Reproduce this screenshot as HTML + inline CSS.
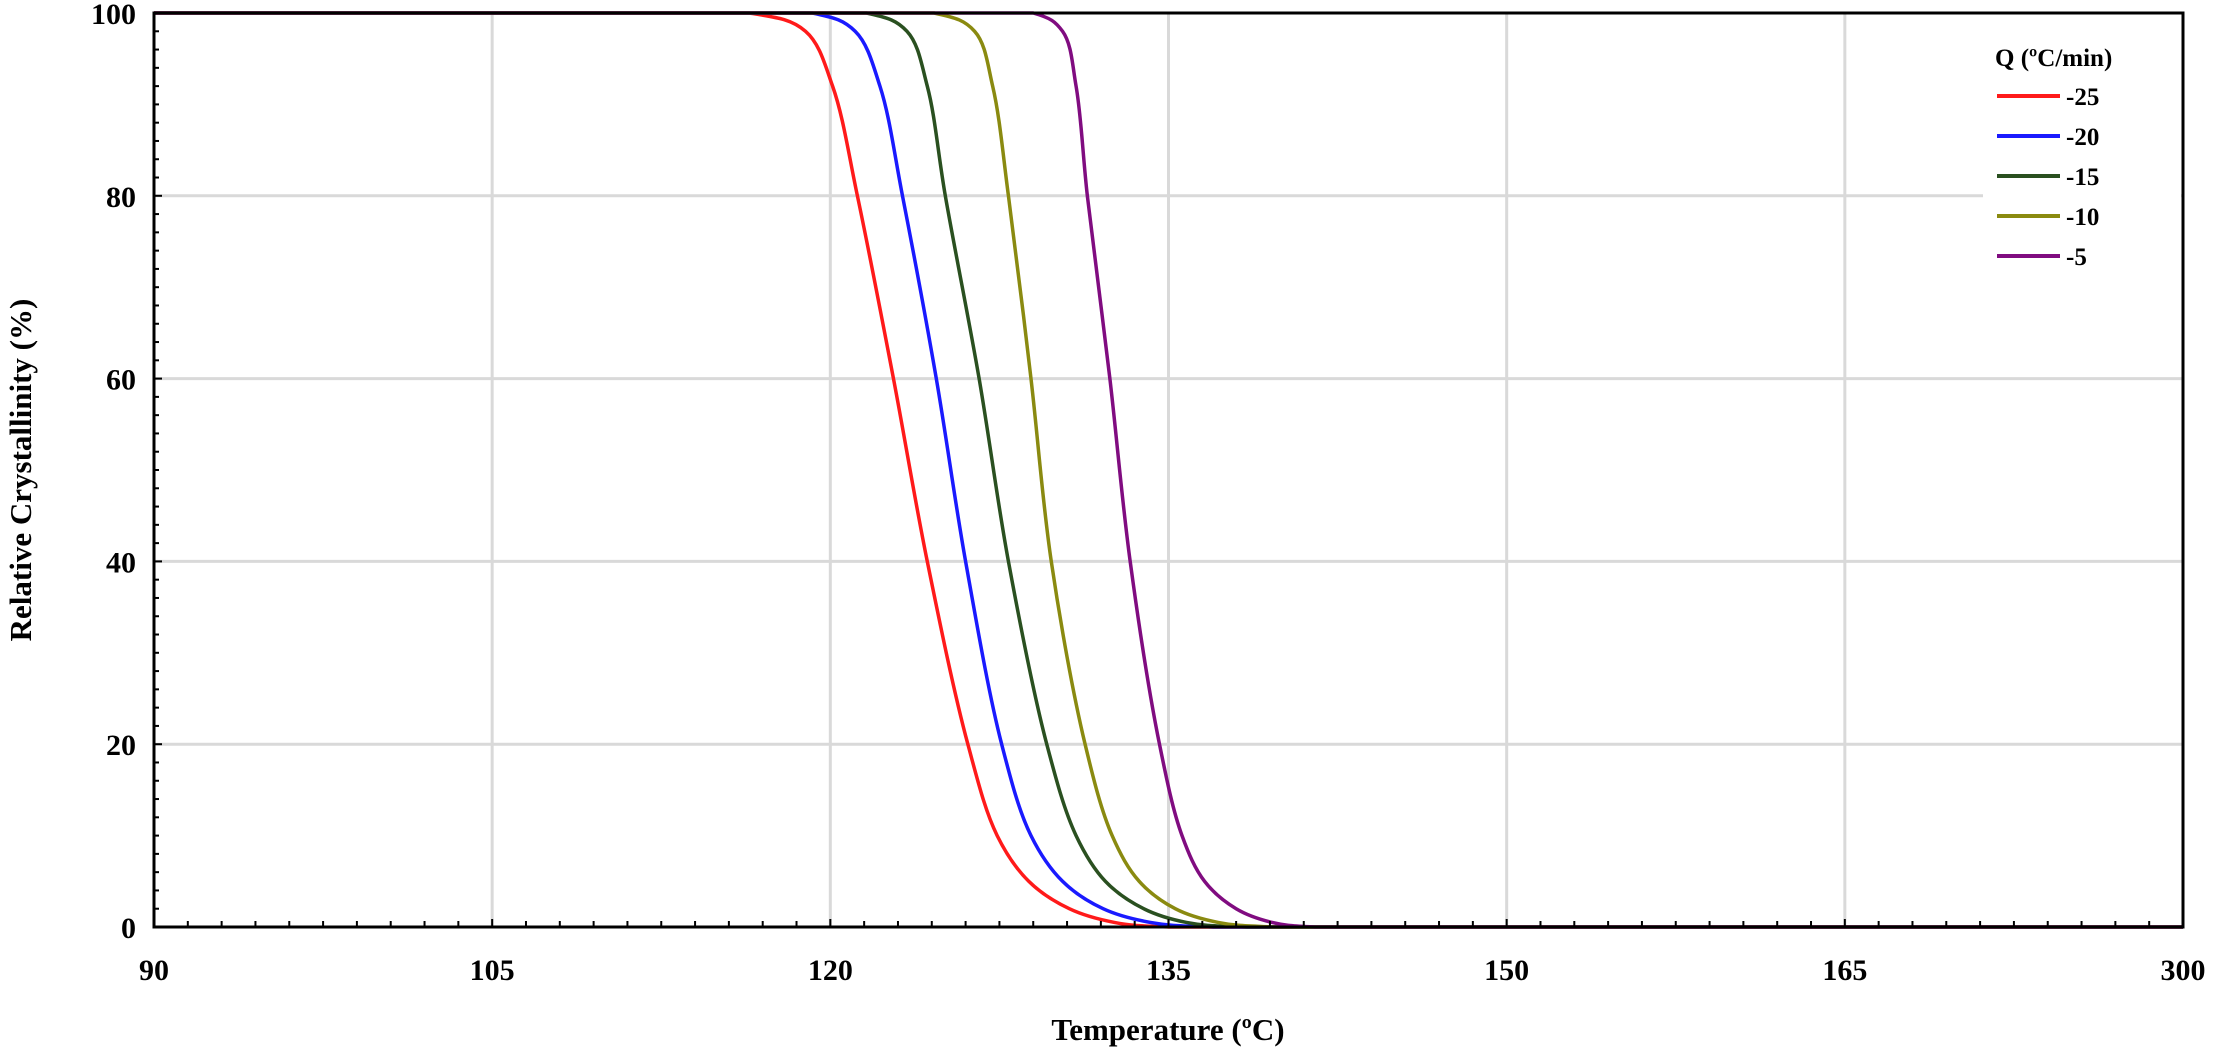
<!DOCTYPE html>
<html><head><meta charset="utf-8"><style>
html,body{margin:0;padding:0;background:#fff;}
svg{display:block;font-family:"Liberation Serif",serif;font-weight:bold;}
</style></head><body>
<svg id="chart" width="2220" height="1055" viewBox="0 0 2220 1055" xmlns="http://www.w3.org/2000/svg">
<g id="grid"></g>
<g id="series"></g>
<g id="axes"></g>
<g id="legend"></g>
<text x="1168" y="1040" font-size="31" text-anchor="middle">Temperature (ºC)</text>
<text transform="translate(31,470) rotate(-90)" font-size="31" text-anchor="middle">Relative Crystallinity (%)</text>
</svg>
<script>
const xTickLabels = ["90","105","120","135","150","165","300"];
const yTickValues = [0,20,40,60,80,100];
const levels = [100,100,98,92,80,60,40,20,10,5,2,0.5,0,0];
const seriesNames = ["-25","-20","-15","-10","-5"];
const seriesColors = ["#ff1a1a","#1a1aff","#2a5020","#8a8a10","#800c80"];
const tRed = [90,116.4,118.9,120.1,121.2,122.8,124.3,126.1,127.4,128.8,130.6,132.6,135.0,180];
const tBlue = [90,119.2,121.1,122.2,123.2,124.7,126.0,127.6,128.9,130.3,132.1,134.2,137.0,180];
const tGreen = [90,121.6,123.4,124.3,125.1,126.6,127.9,129.6,130.9,132.2,133.9,135.8,138.5,180];
const tOlive = [90,124.6,126.4,127.2,127.9,128.9,129.8,131.3,132.5,133.7,135.3,137.2,139.7,180];
const tPurple = [90,129.0,130.3,130.9,131.4,132.4,133.3,134.6,135.6,136.6,138.0,139.6,141.5,180];
const seriesTemps = [tRed,tBlue,tGreen,tOlive,tPurple];

const L=154,R=2183,T=13,B=927;
const xMin=90,xMax=180,yMin=0,yMax=100;
const xs=v=>L+(v-xMin)/(xMax-xMin)*(R-L);
const ys=v=>B-(v-yMin)/(yMax-yMin)*(B-T);
const NS="http://www.w3.org/2000/svg";
function mk(tag,attrs,parent){const e=document.createElementNS(NS,tag);for(const k in attrs)e.setAttribute(k,attrs[k]);parent.appendChild(e);return e;}
const grid=document.getElementById('grid'),axes=document.getElementById('axes'),ser=document.getElementById('series'),leg=document.getElementById('legend');

xTickLabels.forEach((lab,i)=>{
  const v=xMin+i*15,x=xs(v);
  if(i>0&&i<xTickLabels.length-1){const g=mk('line',{x1:x,x2:x,y1:T,y2:B,stroke:'#d9d9d9','stroke-width':3},grid);
  
  }
  const t=mk('text',{x:x,y:980,'font-size':30,'text-anchor':'middle'},axes);t.textContent=lab;
  
  
});
yTickValues.forEach(v=>{
  const y=ys(v);
  if(v>0&&v<100){const g=mk('line',{x1:L,x2:R,y1:y,y2:y,stroke:'#d9d9d9','stroke-width':3},grid);
  
  }
  const t=mk('text',{x:136,y:y+11,'font-size':30,'text-anchor':'end'},axes);t.textContent=String(v);
  
  
});
for(let v=xMin;v<=xMax+0.01;v+=1.5){const x=xs(v);const major=Math.abs((v-xMin)%15)<0.01;
  const tk=mk('line',{x1:x,x2:x,y1:B,y2:B-(major?8:6),stroke:'#000','stroke-width':2},axes);
  
  }
for(let v=0;v<=100;v+=2){const y=ys(v);const major=v%20===0;
  const tk=mk('line',{x1:L,x2:L+(major?8:5),y1:y,y2:y,stroke:'#000','stroke-width':2},axes);
  
  }

// centripetal Catmull-Rom
function crPath(px,py){
  const P=px.map((x,i)=>[x,py[i]]);const n=P.length;
  const ext=[[2*P[0][0]-P[1][0],2*P[0][1]-P[1][1]],...P,[2*P[n-1][0]-P[n-2][0],2*P[n-1][1]-P[n-2][1]]];
  let s=`M${P[0][0]},${P[0][1]}`;
  const dist=(a,b)=>Math.max(1e-6,Math.pow(Math.hypot(b[0]-a[0],b[1]-a[1]),0.5));
  for(let i=1;i<ext.length-2;i++){
    const p0=ext[i-1],p1=ext[i],p2=ext[i+1],p3=ext[i+2];
    const d1=dist(p0,p1),d2=dist(p1,p2),d3=dist(p2,p3);
    const b1=[0,1].map(k=>(d1*d1*p2[k]-d2*d2*p0[k]+(2*d1*d1+3*d1*d2+d2*d2)*p1[k])/(3*d1*(d1+d2)));
    const b2=[0,1].map(k=>(d3*d3*p1[k]-d2*d2*p3[k]+(2*d3*d3+3*d3*d2+d2*d2)*p2[k])/(3*d3*(d3+d2)));
    s+=` C${b1[0]},${Math.min(B,Math.max(T,b1[1]))} ${b2[0]},${Math.min(B,Math.max(T,b2[1]))} ${p2[0]},${p2[1]}`;
  }
  return s;
}
seriesTemps.forEach((ts,k)=>{
  const p=mk('path',{d:crPath(ts.map(xs),levels.map(ys)),fill:'none',stroke:seriesColors[k],'stroke-width':3.5},ser);
  
  
});

const fr=mk('rect',{x:L,y:T,width:R-L,height:B-T,fill:'none',stroke:'#000','stroke-width':3},axes);



const bg=mk('rect',{x:1983,y:16,width:198,height:262,fill:'#fff'},leg);


const lt=mk('text',{x:1995,y:66,'font-size':25},leg);lt.textContent='Q (ºC/min)';


seriesNames.forEach((nm,k)=>{
  const y=96+k*40;
  const ln=mk('line',{x1:1997,x2:2060,y1:y,y2:y,stroke:seriesColors[k],'stroke-width':4},leg);
  
  
  const t=mk('text',{x:2066,y:y+9,'font-size':25},leg);t.textContent=nm;
  
  
});
</script>
</body></html>
